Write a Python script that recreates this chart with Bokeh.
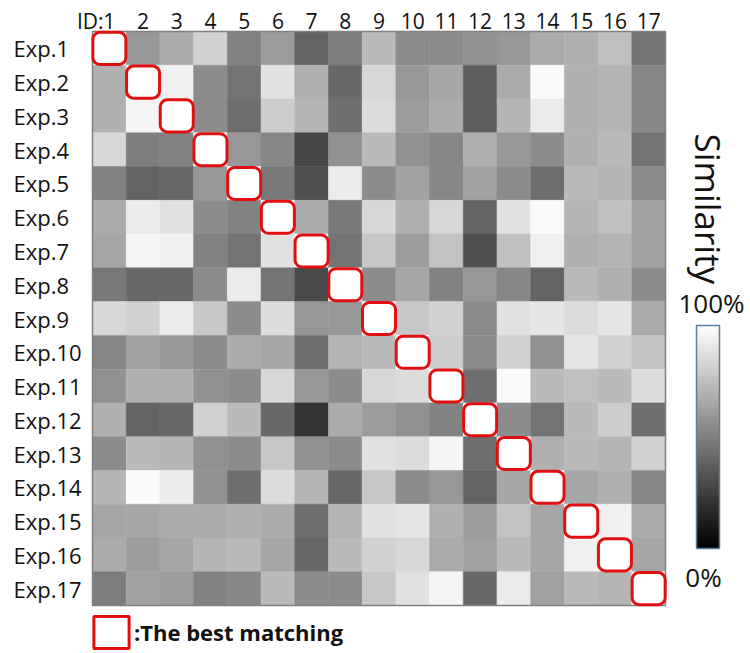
import numpy as np
from math import pi
from bokeh.plotting import figure
from bokeh.models import (ColumnDataSource, FixedTicker, Range1d, Label, LabelSet,
                          ColorBar, LinearColorMapper, Legend, LegendItem)
from bokeh.core.properties import value
from bokeh.embed import file_html
from bokeh.resources import INLINE

# ---------------- data ----------------
exp_labels = [f"Exp.{i}" for i in range(1, 18)]
id_labels = [str(i) for i in range(1, 18)]

# similarity (%) of each experiment (row) against IDs 1..17 (columns)
exp1 = [100, 59, 67, 82, 51, 61, 39, 49, 73, 55, 55, 57, 59, 67, 69, 75, 45]
exp2 = [69, 100, 94, 55, 45, 88, 69, 41, 84, 59, 65, 37, 67, 98, 69, 71, 53]
exp3 = [69, 96, 100, 55, 43, 80, 71, 43, 86, 61, 67, 37, 71, 92, 69, 71, 53]
exp4 = [84, 49, 51, 100, 59, 53, 27, 57, 73, 57, 53, 69, 59, 55, 69, 73, 45]
exp5 = [51, 39, 41, 59, 100, 47, 31, 92, 55, 63, 53, 63, 55, 43, 73, 71, 55]
exp6 = [67, 92, 88, 55, 51, 100, 67, 47, 84, 69, 84, 39, 88, 98, 71, 75, 63]
exp7 = [65, 96, 94, 51, 45, 88, 100, 45, 78, 61, 76, 31, 75, 94, 69, 71, 63]
exp8 = [47, 41, 41, 55, 92, 45, 29, 100, 55, 65, 51, 59, 53, 39, 73, 69, 55]
exp9 = [84, 82, 92, 78, 55, 86, 59, 59, 100, 78, 82, 55, 88, 90, 86, 90, 67]
exp10 = [53, 63, 59, 55, 67, 65, 43, 71, 73, 100, 80, 55, 82, 57, 90, 82, 76]
exp11 = [57, 69, 69, 57, 55, 84, 59, 55, 84, 86, 100, 43, 98, 73, 75, 73, 86]
exp12 = [69, 39, 41, 82, 73, 41, 20, 67, 61, 57, 51, 100, 55, 45, 73, 80, 43]
exp13 = [55, 73, 71, 57, 55, 78, 57, 55, 88, 86, 96, 43, 100, 69, 73, 71, 82]
exp14 = [71, 98, 92, 57, 43, 86, 71, 41, 78, 55, 59, 39, 65, 100, 65, 69, 53]
exp15 = [65, 65, 67, 67, 69, 67, 43, 71, 88, 90, 69, 61, 76, 65, 100, 94, 67]
exp16 = [67, 61, 65, 71, 73, 65, 41, 73, 82, 84, 67, 63, 73, 65, 94, 100, 65]
exp17 = [49, 63, 61, 51, 53, 73, 55, 55, 78, 88, 96, 41, 92, 63, 73, 71, 100]

rows = [exp1, exp2, exp3, exp4, exp5, exp6, exp7, exp8, exp9, exp10,
        exp11, exp12, exp13, exp14, exp15, exp16, exp17]

# ---------------- layout constants ----------------
W, H = 750, 653
GL, GR, GT, GB = 92, 665, 31, 605          # heat-map edges in px
N = len(id_labels)
FONT = "Open Sans"
TXT = "#111111"

def px_x(px):
    return (px - GL) * N / (GR - GL)

def px_y(py):
    return (py - GT) * N / (GB - GT)

xs, ys, vals = [], [], []
for r, row in enumerate(rows):
    for c, v in enumerate(row):
        xs.append(c + 0.5)
        ys.append(r + 0.5)
        vals.append(v)
src = ColumnDataSource(dict(x=xs, y=ys, v=vals))

best_x = [int(np.argmax(row)) + 0.5 for row in rows]
best_y = [r + 0.5 for r in range(len(rows))]
best_src = ColumnDataSource(dict(x=best_x, y=best_y))

gray_palette = [f"#{i:02x}{i:02x}{i:02x}" for i in range(256)]
mapper = LinearColorMapper(palette=gray_palette, low=0, high=100)

p = figure(width=W, height=H, output_backend="svg", toolbar_location=None,
           x_range=Range1d(px_x(0), px_x(W)), y_range=Range1d(px_y(H), px_y(0)),
           x_axis_type=None, y_axis_type=None,
           min_border=0)
p.grid.visible = False
p.outline_line_color = None
p.background_fill_color = "white"
p.border_fill_color = "white"

p.rect(x="x", y="y", width=1, height=1, source=src,
       fill_color={"field": "v", "transform": mapper},
       line_color={"field": "v", "transform": mapper}, line_width=0.5)

# heat-map border
p.quad(left=[0], right=[N], top=[0], bottom=[N], fill_color=None,
       line_color="#808080", line_width=1.5)

box = p.rect(x="x", y="y", width=0.98, height=0.95, source=best_src,
             fill_color="white", line_color="#e01010", line_width=3,
             border_radius=7)

# column IDs
id_src = ColumnDataSource(dict(x=[c + 0.5 for c in range(N)], y=[px_y(20)] * N,
                               t=id_labels))
p.add_layout(LabelSet(x="x", y="y", text="t", source=id_src, text_align="center",
                      text_baseline="middle", text_font=value(FONT),
                      text_font_size="21px", text_color=TXT))
idp_src = ColumnDataSource(dict(x=[px_x(103)], y=[px_y(20)], t=["ID:"]))
p.add_layout(LabelSet(x="x", y="y", text="t", source=idp_src, text_align="right",
                      text_baseline="middle", text_font=value(FONT),
                      text_font_size="21px", text_color=TXT))

# row labels
lab_src = ColumnDataSource(dict(x=[px_x(13)] * N, y=[r + 0.5 for r in range(N)],
                                t=exp_labels))
p.add_layout(LabelSet(x="x", y="y", text="t", source=lab_src, text_align="left",
                      text_baseline="middle", text_font=value(FONT),
                      text_font_size="22px", text_color=TXT))

# colour bar
cb = ColorBar(color_mapper=mapper, ticker=FixedTicker(ticks=[]), width=23, height=223,
              padding=0, margin=0, location=(696, H - 548),
              bar_line_color="#5b7f9f", bar_line_width=1.5,
              background_fill_color=None, border_line_color=None,
              major_tick_line_color=None, minor_tick_line_color=None,
              major_label_text_font_size="0px")
p.add_layout(cb, "center")

p.add_layout(Label(x=px_x(708), y=px_y(133), text="Similarity", angle=-pi / 2,
                   text_align="left", text_baseline="alphabetic", text_font=FONT,
                   text_font_size="35px", text_color=TXT))
p.add_layout(Label(x=px_x(711), y=px_y(302), text="100%", text_align="center",
                   text_baseline="middle", text_font=FONT, text_font_size="26px",
                   text_color=TXT))
p.add_layout(Label(x=px_x(703), y=px_y(576), text="0%", text_align="center",
                   text_baseline="middle", text_font=FONT, text_font_size="26px",
                   text_color=TXT))

# legend for the best-matching boxes
legend = Legend(items=[LegendItem(label=":The best matching", renderers=[box])],
                location=(89, 1), orientation="horizontal",
                glyph_width=44, glyph_height=40, label_standoff=1,
                label_height=40, padding=0, margin=0, spacing=0,
                border_line_color=None, background_fill_alpha=0,
                label_text_font=FONT, label_text_font_style="bold",
                label_text_font_size="22px", label_text_color=TXT,
                label_text_baseline="middle")
p.add_layout(legend, "center")

open("out.html", "w").write(file_html(p, INLINE))
